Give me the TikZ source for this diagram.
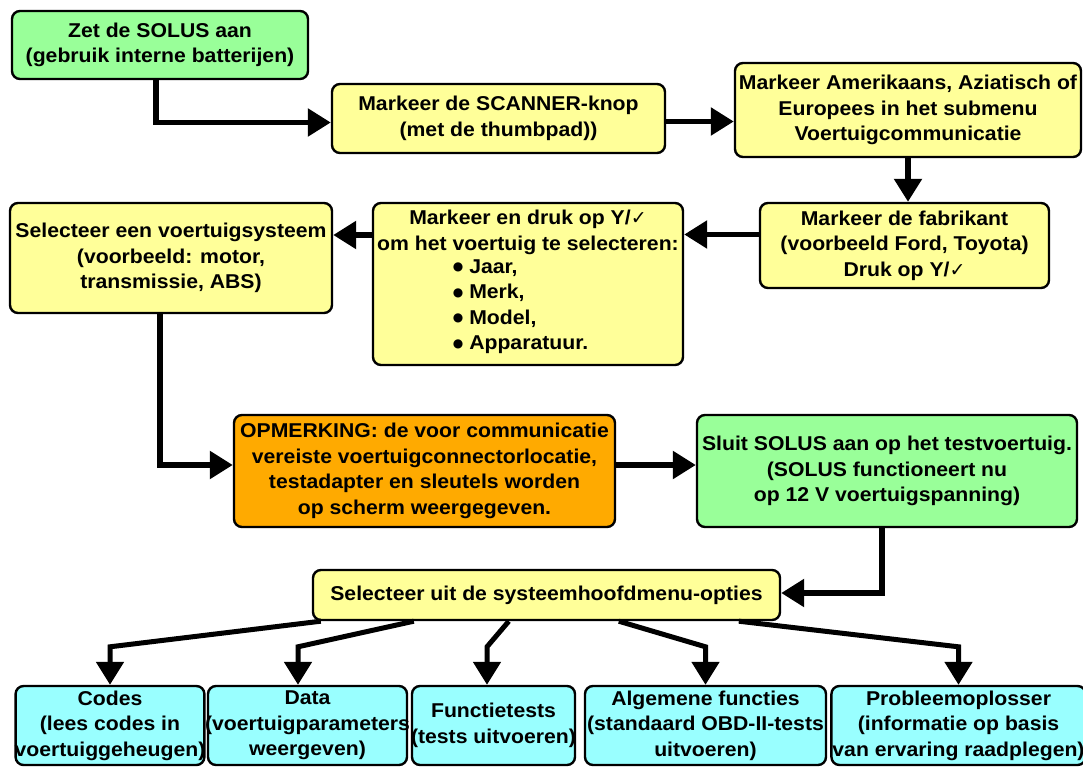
\documentclass[tikz,border=0pt]{standalone}
\usepackage{fontspec}
\setmainfont[FakeStretch=1.06]{Liberation Sans}
\newfontfamily\symfont{DejaVu Sans}
\usetikzlibrary{
	arrows.meta		% Allows sized triangle tips
}

\definecolor{boxGreen}{RGB}{153,255,153}
\definecolor{boxYellow}{RGB}{255,255,153}
\definecolor{boxOrange}{RGB}{255,170,0}
\definecolor{boxCyan}{RGB}{153,255,255}
\newcommand{\chk}{{\symfont\mdseries\fontsize{19}{20}\selectfont ✓}}
\newcommand{\itm}[1]{\raisebox{2.5pt}{\symfont\fontsize{12}{12}\selectfont ●}\hspace{6pt}#1}

\begin{document}
\begin{tikzpicture}[
				x=1pt, y=-1pt,
				element/.style={
					rectangle,
					rounded corners=8pt,
					draw=black, line width=2.4pt,
					inner sep=1pt,
					align=center,
					font=\fontsize{20}{25.5}\selectfont\bfseries
				},
				greenbox/.style={element, fill=boxGreen},
				yellowbox/.style={element, fill=boxYellow},
				orangebox/.style={element, fill=boxOrange},
				cyanbox/.style={element, fill=boxCyan, minimum height=79pt},
				arrow/.style={
					-{Triangle[length=23pt, width=27pt]},
					line width=5.5pt
				},
				branch/.style={
					arrow,
					line width=5pt
				}]

			\useasboundingbox (0,0) rectangle (1083,767);

			%%% Main chain of steps
			\node [greenbox, minimum width=296pt, minimum height=68pt] (stepStart) at (160,45)
				{Zet de SOLUS aan\\(gebruik interne batterijen)};
			\node [yellowbox, minimum width=333pt, minimum height=69pt] (stepScanner) at (498.5,118.5)
				{Markeer de SCANNER-knop\\(met de thumbpad))};
			\node [yellowbox, minimum width=346pt, minimum height=94pt] (stepRegion) at (908,110)
				{Markeer Amerikaans, Aziatisch of\\Europees in het submenu\\Voertuigcommunicatie};
			\node [yellowbox, minimum width=289pt, minimum height=85pt] (stepMaker) at (904.5,245.5)
				{Markeer de fabrikant\\(voorbeeld Ford, Toyota)\\Druk op Y/\chk};
			\node [yellowbox, minimum width=310pt, minimum height=162pt] (stepVehicle) at (528,284)
				{Markeer en druk op Y/\chk\\om het voertuig te selecteren:\\
				\hspace*{-15pt}\begin{tabular}{@{}l@{}}\itm{Jaar,}\\\itm{Merk,}\\\itm{Model,}\\\itm{Apparatuur.}\end{tabular}};
			\node [yellowbox, minimum width=322pt, minimum height=110pt] (stepSystem) at (171,258)
				{Selecteer een voertuigsysteem\\(voorbeeld: motor,\\transmissie, ABS)};
			\node [orangebox, minimum width=381pt, minimum height=112pt] (stepNote) at (424.5,471)
				{OPMERKING: de voor communicatie\\vereiste voertuigconnectorlocatie,\\testadapter en sleutels worden\\op scherm weergegeven.};
			\node [greenbox, minimum width=380pt, minimum height=112pt] (stepConnect) at (887,471)
				{Sluit SOLUS aan op het testvoertuig.\\(SOLUS functioneert nu\\op 12 V voertuigspanning)};
			\node [yellowbox, minimum width=467pt, minimum height=50pt] (stepMenu) at (546.5,595)
				{Selecteer uit de systeemhoofdmenu-opties};

			%%% Menu options along the bottom
			\node [cyanbox, minimum width=186pt, inner xsep=-1pt] (optCodes) at (110,725.5)
				{Codes\\(lees codes in\\voertuiggeheugen)};
			\node [cyanbox, minimum width=197pt, inner xsep=-3pt] (optData) at (307.5,725.5)
				{Data\\(voertuigparameters\\weergeven)};
			\node [cyanbox, minimum width=163pt, inner xsep=-2pt] (optTests) at (493.5,725.5)
				{Functietests\\(tests uitvoeren)};
			\node [cyanbox, minimum width=241pt] (optGeneral) at (705.5,725.5)
				{Algemene functies\\(standaard OBD-II-tests\\uitvoeren)};
			\node [cyanbox, minimum width=245pt] (optTrouble) at (958.5,725.5)
				{Probleemoplosser\\(informatie op basis\\van ervaring raadplegen)};

			\draw [arrow] ([xshift=-4]stepStart.south) |- ([yshift=-4]stepScanner.west);
			\draw [arrow] ([yshift=-3]stepScanner.east) -- ([yshift=-3]stepScanner.east -| stepRegion.west);
			\draw [arrow] (stepRegion.south) -- (stepRegion.south |- stepMaker.north);
			\draw [arrow] ([yshift=11]stepMaker.west) -- ([yshift=11]stepMaker.west -| stepVehicle.east);
			\draw [arrow] ([yshift=49]stepVehicle.west) -- ([yshift=49]stepVehicle.west -| stepSystem.east);
			\draw [arrow] ([xshift=-11]stepSystem.south) |- ([yshift=6]stepNote.west);
			\draw [arrow] ([yshift=6]stepNote.east) -- ([yshift=6]stepNote.east -| stepConnect.west);
			\draw [arrow] ([xshift=-5]stepConnect.south) |- ([yshift=2]stepMenu.east);

			\draw [branch] ([xshift=9]stepMenu.south west) -- ([yshift=38]optCodes.north) -- (optCodes.north);
			\draw [branch] ([xshift=102]stepMenu.south west) -- ([xshift=-9.5, yshift=38]optData.north) -- ([xshift=-9.5]optData.north);
			\draw [branch] ([xshift=197]stepMenu.south west) -- ([xshift=-6.5, yshift=38]optTests.north) -- ([xshift=-6.5]optTests.north);
			\draw [branch] ([xshift=307]stepMenu.south west) -- ([yshift=38]optGeneral.north) -- (optGeneral.north);
			\draw [branch] ([xshift=427]stepMenu.south west) -- ([yshift=38]optTrouble.north) -- (optTrouble.north);

		\end{tikzpicture}
\end{document}
